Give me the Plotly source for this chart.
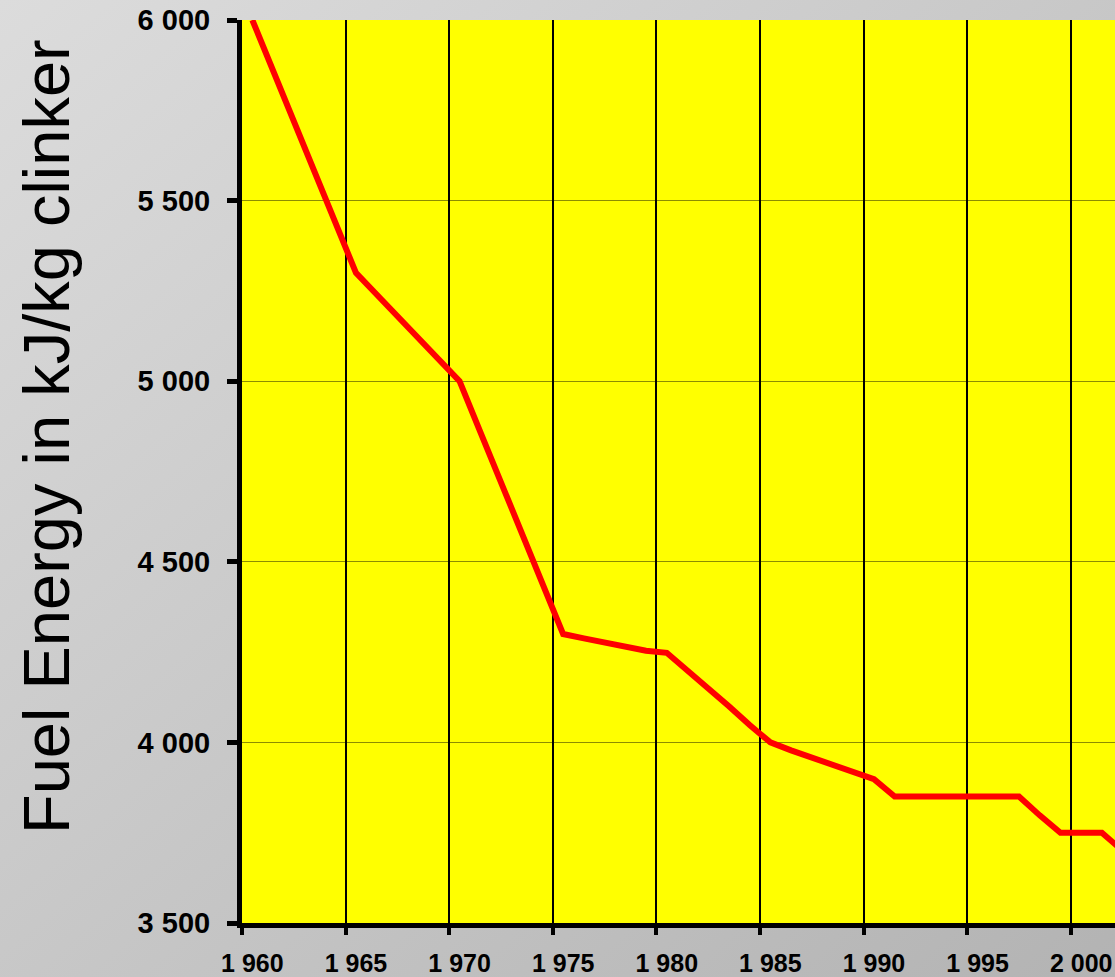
import base64
import plotly.graph_objects as go

# ---- data ----
years = list(range(1960, 2003))
energy = [6000, 5860, 5720, 5580, 5450, 5300, 5240, 5180, 5120, 5060,
          5000, 4860, 4720, 4580, 4440, 4300, 4288, 4276, 4265, 4254,
          4248, 4200, 4150, 4100, 4048, 4000, 3978, 3958, 3942, 3921,
          3898, 3850, 3850, 3850, 3850, 3850, 3850, 3850, 3798, 3750,
          3750, 3750, 3700]
y_ticks = [3500, 4000, 4500, 5000, 5500, 6000]
y_title = "Fuel Energy in kJ/kg clinker"

categories = [f"{y // 1000} {y % 1000:03d}" for y in years]

W, H = 1115, 977
L, R, T, B = 242, 0, 20, 54
PW, PH = W - L - R, H - T - B

FONT = "Arial, Liberation Sans, sans-serif"

fig = go.Figure()
fig.add_trace(go.Scatter(
    x=categories, y=energy, mode="lines",
    line=dict(color="#ff0000", width=6),
    hoverinfo="skip", showlegend=False,
))

# gradient background as an inline SVG image
svg = (
    '<svg xmlns="http://www.w3.org/2000/svg" width="100" height="100" preserveAspectRatio="none">'
    '<defs><linearGradient id="g" x1="0" y1="0" x2="1" y2="1">'
    '<stop offset="0" stop-color="#dcdcdc"/>'
    '<stop offset="1" stop-color="#b3b3b3"/>'
    '</linearGradient></defs>'
    '<rect width="100" height="100" fill="url(#g)"/></svg>'
)
src = "data:image/svg+xml;base64," + base64.b64encode(svg.encode()).decode()
fig.add_layout_image(dict(
    source=src, xref="paper", yref="paper",
    x=-L / PW, y=1 + T / PH, sizex=W / PW, sizey=H / PH,
    xanchor="left", yanchor="top", sizing="stretch", layer="below",
))

fig.add_shape(type="rect", xref="x domain", yref="y domain",
              x0=0, x1=1, y0=0, y1=1, fillcolor="#ffff00",
              line=dict(width=0), layer="below")

# y-axis title
fig.add_annotation(
    text=y_title, textangle=-90, showarrow=False,
    xref="paper", yref="paper",
    x=(46 - L) / PW, y=(H - B - 437) / PH,
    xanchor="center", yanchor="middle",
    font=dict(family=FONT, size=65, color="#000000"),
)

fig.update_layout(
    width=W, height=H,
    margin=dict(l=L, r=R, t=T, b=B, pad=0),
    paper_bgcolor="#cccccc", plot_bgcolor="#ffff00",
    separators=". ",
    showlegend=False,
    xaxis=dict(
        type="category", categoryorder="array", categoryarray=categories,
        range=[-0.5, -0.5 + PW / 20.72],
        tickmode="linear", tick0=0, dtick=5, tickson="boundaries",
        tickangle=0,
        showgrid=True, gridcolor="#000000", gridwidth=2,
        ticks="outside", ticklen=7, tickwidth=4, tickcolor="#000000",
        showline=True, linecolor="#000000", linewidth=5,
        tickfont=dict(family=FONT, size=25, color="#000000", weight="bold"),
        ticklabelstandoff=14,
        automargin=False, fixedrange=True,
    ),
    yaxis=dict(
        range=[3500, 6000], tickvals=y_ticks, tickformat=",d",
        showgrid=True, gridcolor="rgba(0,0,0,0.45)", gridwidth=1,
        ticks="outside", ticklen=10, tickwidth=5, tickcolor="#000000",
        showline=True, linecolor="#000000", linewidth=5,
        tickfont=dict(family=FONT, size=29, color="#000000", weight="bold"),
        ticklabelstandoff=11,
        zeroline=False, automargin=False, fixedrange=True,
    ),
)

fig.write_html(
    "out.html",
    config={"displayModeBar": False, "staticPlot": True},
    post_script="document.body.style.margin='0';document.body.style.overflow='hidden';",
)
